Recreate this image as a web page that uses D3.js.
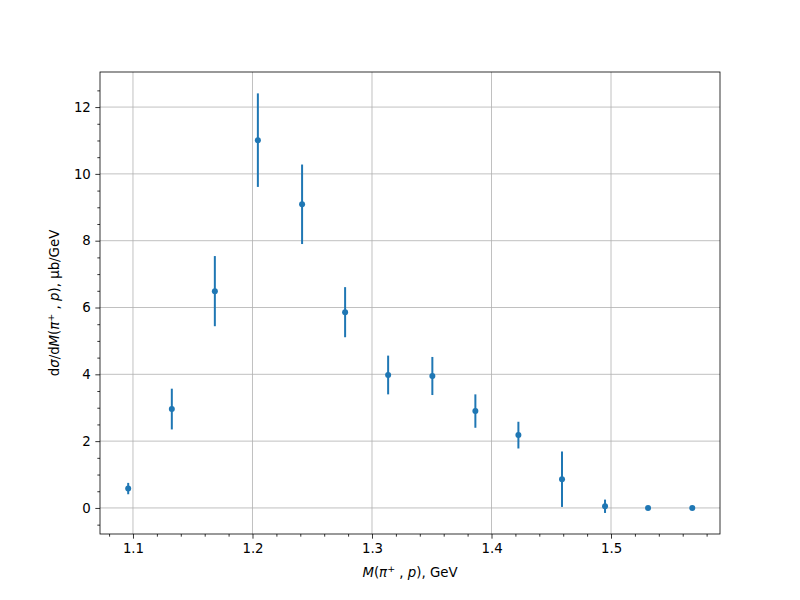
<!DOCTYPE html>
<html>
<head>
<meta charset="utf-8">
<script src="https://d3js.org/d3.v7.min.js"></script>
<style>
  body { margin: 0; background: white; }
  svg { font-family: "DejaVu Sans", sans-serif; }
  .label { font-size: 13.33px; }
</style>
</head>
<body>
<svg id="chart" width="800" height="600"></svg>
<script>
// invariant mass bins, GeV
var mass = [1.096, 1.1325, 1.1685, 1.2045, 1.2415, 1.2775, 1.3135, 1.3505, 1.3865, 1.4225, 1.459, 1.495, 1.531, 1.568];
// cross section, ub/GeV
var xsec = [0.58, 2.96, 6.49, 11.01, 9.09, 5.86, 3.98, 3.95, 2.90, 2.18, 0.86, 0.05, 0.0, 0.0];
var xsecErr = [0.17, 0.61, 1.05, 1.40, 1.19, 0.75, 0.58, 0.57, 0.50, 0.40, 0.83, 0.20, 0.0, 0.0];
var xTicks = [1.1, 1.2, 1.3, 1.4, 1.5];
var yTicks = [0, 2, 4, 6, 8, 10, 12];

var svg = d3.select('#chart');
var mLeft = 100, mRight = 720, mTop = 72, mBottom = 534;
var color = '#1f77b4';

var x = d3.scaleLinear().domain([1.0724, 1.5912]).range([mLeft, mRight]);
var y = d3.scaleLinear().domain([-0.78, 13.05]).range([mBottom, mTop]);

var xMinor = d3.range(1.08, 1.59, 0.02).filter(function(v) {
  return Math.abs(Math.round(v * 10) - v * 10) > 0.01;
});
var yMinor = d3.range(-0.5, 13.0, 0.5).filter(function(v) { return v % 2 != 0; });

// grid
var g = svg.append('g');
g.selectAll('.gx').data(xTicks).enter().append('line')
  .attr('x1', function(d) { return x(d); }).attr('x2', function(d) { return x(d); })
  .attr('y1', mTop).attr('y2', mBottom)
  .attr('stroke', '#b0b0b0').attr('stroke-width', 0.8);
g.selectAll('.gy').data(yTicks).enter().append('line')
  .attr('y1', function(d) { return y(d); }).attr('y2', function(d) { return y(d); })
  .attr('x1', mLeft).attr('x2', mRight)
  .attr('stroke', '#b0b0b0').attr('stroke-width', 0.8);

// error bars
svg.append('g').selectAll('line').data(mass).enter().append('line')
  .attr('x1', function(d) { return x(d); }).attr('x2', function(d) { return x(d); })
  .attr('y1', function(d, i) { return y(xsec[i] - xsecErr[i]); })
  .attr('y2', function(d, i) { return y(xsec[i] + xsecErr[i]); })
  .attr('stroke', color).attr('stroke-width', 2);

// points
svg.append('g').selectAll('circle').data(mass).enter().append('circle')
  .attr('cx', function(d) { return x(d); })
  .attr('cy', function(d, i) { return y(xsec[i]); })
  .attr('r', 3)
  .attr('fill', color);

// axes
svg.append('g').attr('transform', 'translate(0,' + mBottom + ')')
  .call(d3.axisBottom(x).tickValues(xTicks).tickSize(4.67).tickPadding(4.5).tickFormat(d3.format('.1f')));
svg.append('g').attr('transform', 'translate(0,' + mBottom + ')')
  .call(d3.axisBottom(x).tickValues(xMinor).tickSize(2.67).tickFormat(''));
svg.append('g').attr('transform', 'translate(' + mLeft + ',0)')
  .call(d3.axisLeft(y).tickValues(yTicks).tickSize(4.67).tickPadding(4.5));
svg.append('g').attr('transform', 'translate(' + mLeft + ',0)')
  .call(d3.axisLeft(y).tickValues(yMinor).tickSize(2.67).tickFormat(''));
svg.selectAll('.domain').remove();
svg.selectAll('.tick line').attr('stroke', 'black').attr('stroke-width', 0.8);
svg.selectAll('.tick text')
  .attr('font-size', '13.33px')
  .attr('font-family', 'DejaVu Sans')
  .attr('fill', 'black');

// frame
svg.append('rect').attr('x', mLeft).attr('y', mTop)
  .attr('width', mRight - mLeft).attr('height', mBottom - mTop)
  .attr('fill', 'none').attr('stroke', 'black').attr('stroke-width', 0.8);

// x label
var xl = svg.append('text').attr('class', 'label')
  .attr('x', (mLeft + mRight) / 2).attr('y', 577).attr('text-anchor', 'middle');
xl.append('tspan').attr('font-style', 'italic').text('M');
xl.append('tspan').text('(');
xl.append('tspan').attr('font-style', 'italic').text('π');
xl.append('tspan').attr('font-size', '9.5px').attr('dy', -5).text('+');
xl.append('tspan').attr('dy', 5).text(' , ');
xl.append('tspan').attr('font-style', 'italic').text('p');
xl.append('tspan').text('), GeV');

// y label
var yl = svg.append('text').attr('class', 'label')
  .attr('transform', 'translate(59,' + (mTop + mBottom) / 2 + ') rotate(-90)')
  .attr('text-anchor', 'middle');
yl.append('tspan').text('d');
yl.append('tspan').attr('font-style', 'italic').text('σ');
yl.append('tspan').text('/d');
yl.append('tspan').attr('font-style', 'italic').text('M');
yl.append('tspan').text('(');
yl.append('tspan').attr('font-style', 'italic').text('π');
yl.append('tspan').attr('font-size', '9.5px').attr('dy', -5).text('+');
yl.append('tspan').attr('dy', 5).text(' , ');
yl.append('tspan').attr('font-style', 'italic').text('p');
yl.append('tspan').text('), μb/GeV');
</script>
</body>
</html>
